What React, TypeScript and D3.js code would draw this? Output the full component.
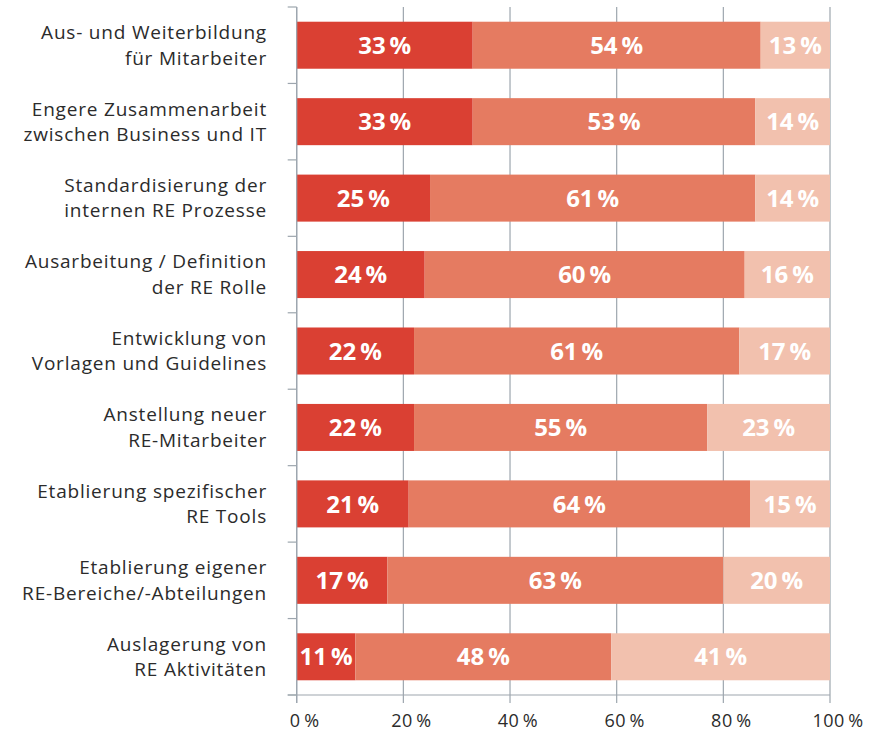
import React from "react";
import * as d3 from "d3";

const categories: string[][] = [
  ["Aus- und Weiterbildung", "für Mitarbeiter"],
  ["Engere Zusammenarbeit", "zwischen Business und IT"],
  ["Standardisierung der", "internen RE Prozesse"],
  ["Ausarbeitung / Definition", "der RE Rolle"],
  ["Entwicklung von", "Vorlagen und Guidelines"],
  ["Anstellung neuer", "RE-Mitarbeiter"],
  ["Etablierung spezifischer", "RE Tools"],
  ["Etablierung eigener", "RE-Bereiche/-Abteilungen"],
  ["Auslagerung von", "RE Aktivitäten"],
];
const seriesA = [33, 33, 25, 24, 22, 22, 21, 17, 11];
const seriesB = [54, 53, 61, 60, 61, 55, 64, 63, 48];
const seriesC = [13, 14, 14, 16, 17, 23, 15, 20, 41];
const xTicks = [0, 20, 40, 60, 80, 100];

const colors = ["#DA4033", "#E57B61", "#F2C1AE"];
const gridColor = "#9DA6AE";
const textColor = "#2b2b2b";
const font = "'Open Sans', 'Noto Sans', sans-serif";

export default function App() {
  const width = 891;
  const height = 732;
  const x0 = 296.7, x1 = 830, yTop = 7, yBot = 695;

  const rows = categories.map((c, i) => ({ key: i, a: seriesA[i], b: seriesB[i], c: seriesC[i] }));
  const stack = d3.stack<any>().keys(["a", "b", "c"]);
  const stacked = stack(rows);

  const x = d3.scaleLinear().domain([0, 100]).range([x0, x1]);
  const y = d3
    .scaleBand<number>()
    .domain(categories.map((_, i) => i))
    .range([yTop, yBot])
    .paddingInner(0.385)
    .paddingOuter(0.1925);
  const bandStep = y.step();
  const boundaries = d3.range(categories.length + 1).map((i) => yTop + i * bandStep);

  return (
    <>
      <style>{`body{margin:0}`}</style>
      <svg width={width} height={height} style={{ display: "block" }} fontFamily={font}>
        <rect width={width} height={height} fill="#fff" />
        {/* gridlines */}
        {xTicks.map((t) => (
          <line key={"g" + t} x1={x(t)} x2={x(t)} y1={yTop} y2={yBot + 8} stroke={gridColor} strokeWidth={1.2} />
        ))}
        {/* bottom axis line */}
        <line x1={x0 - 9} x2={x1} y1={yBot} y2={yBot} stroke={gridColor} strokeWidth={1.2} />
        {/* left ticks */}
        {boundaries.map((b, i) => (
          <line key={"lt" + i} x1={x0 - 9} x2={x0} y1={b} y2={b} stroke={gridColor} strokeWidth={1.2} />
        ))}
        {/* bars */}
        {stacked.map((s, si) => (
          <g key={"s" + si} fill={colors[si]}>
            {s.map((d, i) => (
              <rect key={i} x={x(d[0])} y={y(i)!} width={x(d[1]) - x(d[0])} height={y.bandwidth()} />
            ))}
          </g>
        ))}
        {/* bar labels */}
        {stacked.map((s, si) => (
          <g key={"l" + si}>
            {s.map((d, i) => (
              <text
                key={i}
                x={(x(d[0]) + x(d[1])) / 2}
                y={y(i)! + y.bandwidth() / 2}
                dy="0.36em"
                textAnchor="middle"
                fill="#fff"
                fontWeight={700}
                fontSize={24}
              >
                {`${d[1] - d[0]}\u2009%`}
              </text>
            ))}
          </g>
        ))}
        {/* left axis line */}
        <line x1={x0} x2={x0} y1={yTop} y2={yBot + 8} stroke={gridColor} strokeWidth={1.2} />
        {/* category labels */}
        {categories.map((lines, i) => {
          const cy = y(i)! + y.bandwidth() / 2;
          return (
            <text key={"c" + i} x={267} textAnchor="end" fill={textColor} fontSize={19} letterSpacing={0.8}>
              {lines.map((ln, li) => (
                <tspan key={li} x={267} y={cy + (li - (lines.length - 1) / 2) * 25.5 + 6.6}>
                  {ln}
                </tspan>
              ))}
            </text>
          );
        })}
        {/* x tick labels */}
        {xTicks.map((t) => (
          <text key={"t" + t} x={x(t) + 8} y={727} textAnchor="middle" fill={textColor} fontSize={18} letterSpacing={0.5}>
            {`${t}\u2009%`}
          </text>
        ))}
      </svg>
    </>
  );
}
